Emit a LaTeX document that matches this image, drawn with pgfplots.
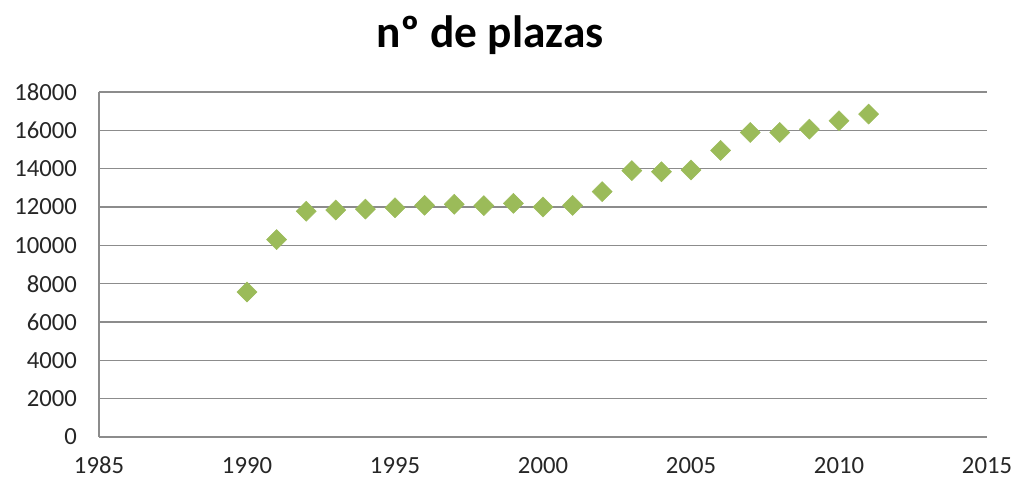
\documentclass[border=0pt]{standalone}
\usepackage{fontspec}
\setmainfont{Carlito}
\usepackage{pgfplots}
\pgfplotsset{compat=1.18}
\definecolor{olive}{HTML}{9BBB59}
\definecolor{gridgray}{HTML}{8C8C8C}

\begin{document}
\begin{tikzpicture}
\useasboundingbox (0pt,0pt) rectangle (761.25pt,359.25pt);
% title
\node[anchor=base, font=\bfseries\fontsize{34}{36}\selectfont] at (367.5pt,323.25pt) {nº de plazas};
\begin{axis}[
  at={(74.25pt,31.5pt)}, anchor=south west,
  scale only axis, width=666pt, height=258.75pt,
  xmin=1985, xmax=2015, ymin=0, ymax=18000,
  xtick={1985,1990,...,2015}, ytick={0,2000,...,18000},
  axis x line*=bottom, axis y line*=left,
  axis line style={draw=gridgray, line width=0.9pt},
  major tick length=0pt,
  ymajorgrids, grid style={draw=gridgray, line width=0.9pt},
  scaled ticks=false,
  /pgf/number format/1000 sep={},
  /pgf/number format/assume math mode=true,
  tick label style={font=\fontsize{18.5}{20}\selectfont, text=black!85},
  xticklabel style={anchor=north, yshift=-11.5pt},
  yticklabel style={anchor=east, xshift=-13pt},
  clip=false,
]
  \addplot[only marks, mark=square*, mark size=5.3pt,
    mark options={rotate=45, fill=olive, draw=olive}]
    coordinates {
    (1990,7560) (1991,10300) (1992,11780) (1993,11840) (1994,11890)
    (1995,11960) (1996,12090) (1997,12140) (1998,12070) (1999,12190)
    (2000,12000) (2001,12080) (2002,12800) (2003,13900) (2004,13840)
    (2005,13930) (2006,14950) (2007,15890) (2008,15890) (2009,16060)
    (2010,16500) (2011,16850)
    };
\end{axis}
\end{tikzpicture}
\end{document}
